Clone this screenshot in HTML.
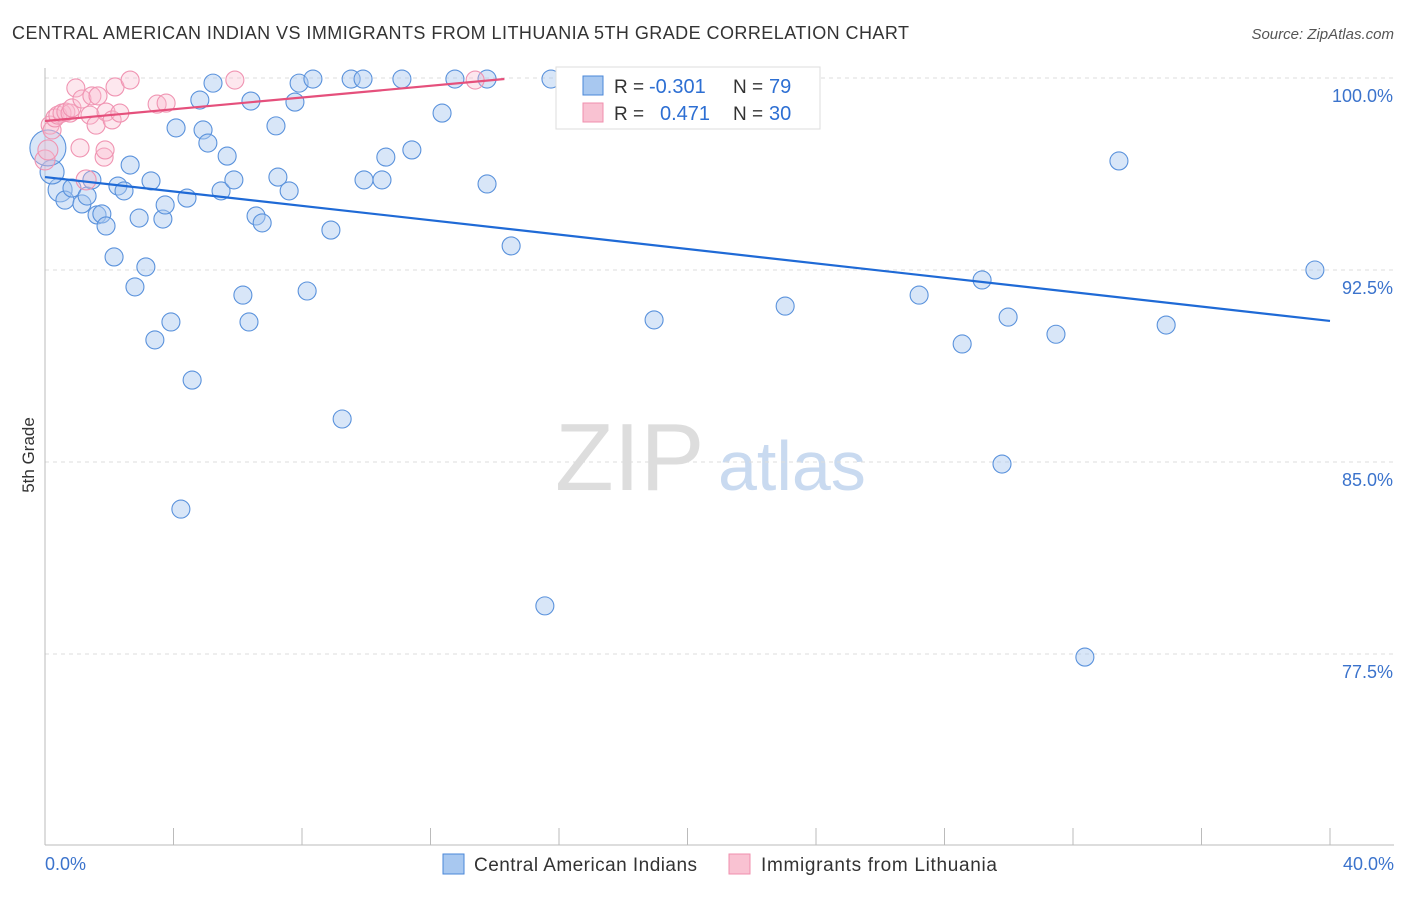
<!DOCTYPE html>
<html><head><meta charset="utf-8"><style>
body{margin:0;background:#fff;font-family:"Liberation Sans",sans-serif;}
svg text{font-family:"Liberation Sans",sans-serif;}
</style></head><body>
<svg width="1406" height="892" xmlns="http://www.w3.org/2000/svg">
<text x="12" y="39" font-size="18" fill="#333" textLength="897">CENTRAL AMERICAN INDIAN VS IMMIGRANTS FROM LITHUANIA 5TH GRADE CORRELATION CHART</text>
<text x="1394" y="39" font-size="15" fill="#555" text-anchor="end" font-style="italic">Source: ZipAtlas.com</text>
<text x="555" y="490" font-size="96" fill="#ddd" font-family="Liberation Serif">ZIP</text>
<text x="718" y="490" font-size="70" fill="#c9daf0">atlas</text>
<g id="grid"></g>
<g id="axes"></g>
<g id="marks"></g>
<text transform="translate(34,455) rotate(-90)" font-size="17" fill="#333" text-anchor="middle">5th Grade</text>
<g>
<rect x="556" y="67" width="264" height="62" fill="#fff" stroke="#ddd"/>
<rect x="583" y="76" width="20" height="19" fill="#a8c8f0" stroke="#4a87d8"/>
<rect x="583" y="103" width="20" height="19" fill="#f9c2d2" stroke="#f08fae"/>
<text x="614" y="93" font-size="19" fill="#333">R =</text>
<text x="649" y="93" font-size="20" fill="#2d6fd3">-0.301</text>
<text x="733" y="93" font-size="19" fill="#333">N =</text>
<text x="769" y="93" font-size="20" fill="#2d6fd3">79</text>
<text x="614" y="120" font-size="19" fill="#333">R =</text>
<text x="660" y="120" font-size="20" fill="#2d6fd3">0.471</text>
<text x="733" y="120" font-size="19" fill="#333">N =</text>
<text x="769" y="120" font-size="20" fill="#2d6fd3">30</text>
</g>
<g>
<rect x="443" y="854" width="21" height="20" fill="#a8c8f0" stroke="#4a87d8"/>
<text x="474" y="871" font-size="19" fill="#333" textLength="223">Central American Indians</text>
<rect x="729" y="854" width="21" height="20" fill="#f9c2d2" stroke="#f08fae"/>
<text x="761" y="871" font-size="19" fill="#333" textLength="236">Immigrants from Lithuania</text>
</g>
</svg>
<script>
const blueX=[0.47,0.62,0.84,1.15,1.31,1.46,1.62,1.77,1.90,2.15,2.27,2.46,2.65,2.80,2.93,3.14,3.30,3.42,3.67,3.74,3.92,4.08,4.23,4.42,4.58,4.82,4.92,5.07,5.23,5.48,5.67,5.88,6.16,6.35,6.41,6.57,6.76,7.19,7.25,7.60,7.78,7.91,8.16,8.34,8.90,9.25,9.53,9.90,9.93,10.49,10.61,11.11,11.42,12.36,12.76,13.76,13.76,14.51,15.56,15.75,17.43,18.96,22.26,23.04,27.21,28.55,29.17,29.79,29.98,31.47,32.37,33.43,34.90,39.53,0.22,0.09];
const blueY=[95.63,95.23,95.70,95.08,95.39,96.02,94.65,94.69,94.22,93.01,95.78,95.59,96.60,91.84,94.53,92.62,95.98,89.77,94.49,95.04,90.47,98.05,83.16,95.31,88.20,99.14,97.97,97.46,99.80,95.59,96.95,96.02,91.52,90.47,99.10,94.61,94.34,98.13,96.13,95.59,99.06,99.80,91.68,99.96,94.06,86.68,99.96,99.96,96.02,96.02,96.91,99.96,97.19,98.63,99.96,95.86,99.96,93.44,79.38,99.96,99.96,90.55,99.96,91.09,91.52,89.61,92.11,84.92,90.66,89.99,77.38,96.76,90.35,92.50,96.33,97.27];
const blueR=[12,9,9,9,9,9,9,9,9,9,9,9,9,9,9,9,9,9,9,9,9,9,9,9,9,9,9,9,9,9,9,9,9,9,9,9,9,9,9,9,9,9,9,9,9,9,9,9,9,9,9,9,9,9,9,9,9,9,9,9,9,9,9,9,9,9,9,9,9,9,9,9,9,9,12,18];
const pinkX=[0.16,0.22,0.31,0.40,0.53,0.65,0.78,0.84,0.96,1.09,1.15,1.40,1.46,1.59,1.65,1.84,1.87,1.90,2.09,2.18,2.33,2.65,3.49,3.77,5.91,13.39,18.21,0.0,0.09,1.28];
const pinkY=[98.16,97.97,98.44,98.55,98.63,98.67,98.63,98.83,99.61,97.27,99.18,98.55,99.30,98.16,99.30,96.91,97.19,98.67,98.36,99.65,98.63,99.92,98.98,99.02,99.92,99.92,99.92,96.80,97.19,96.02];
const blueLine=[96.13,90.51]; // value at x=0 and x=40
const pinkLine=[98.32,99.96,14.3]; // y at 0, y at end, end x
const yTicks=[100,92.5,85,77.5];
const yTickLabels=["100.0%","92.5%","85.0%","77.5%"];
const xTickVals=[0,4,8,12,16,20,24,28,32,36,40];
const NS="http://www.w3.org/2000/svg";
const sx=v=>45+v/40*1285, sy=v=>78+(100-v)*25.6;
function mk(t,a,p){const e=document.createElementNS(NS,t);for(const k in a)e.setAttribute(k,a[k]);document.getElementById(p).appendChild(e);return e;}
yTicks.forEach((t,i)=>{
 const l=mk('line',{x1:45,x2:1394,y1:sy(t),y2:sy(t),stroke:'#ddd','stroke-dasharray':'4,4'},'grid');
 
 
 const tx=mk('text',{x:1393,y:sy(t)+24,'font-size':18,fill:'#3b73cc','text-anchor':'end'},'axes');tx.textContent=yTickLabels[i];
 
 
});
mk('line',{x1:45,x2:45,y1:68,y2:845,stroke:'#bbb'},'axes');
mk('line',{x1:45,x2:1394,y1:845,y2:845,stroke:'#bbb'},'axes');
xTickVals.forEach(v=>{const l=mk('line',{x1:sx(v),x2:sx(v),y1:828,y2:845,stroke:'#bbb'},'axes');
 
 });
let t=mk('text',{x:45,y:870,'font-size':18,fill:'#3b73cc'},'axes');t.textContent='0.0%';


t=mk('text',{x:1394,y:870,'font-size':18,fill:'#3b73cc','text-anchor':'end'},'axes');t.textContent='40.0%';


blueX.forEach((x,i)=>{const c=mk('circle',{cx:sx(x),cy:sy(blueY[i]),r:blueR[i],fill:'rgba(168,200,240,0.45)',stroke:'#5a92dc','stroke-width':1.1},'marks');
 
 });
pinkX.forEach((x,i)=>{const c=mk('circle',{cx:sx(x),cy:sy(pinkY[i]),r:i>=27?10:9,fill:'rgba(248,185,205,0.35)',stroke:'#f094b2','stroke-width':1.1},'marks');
 
 });
let ln=mk('line',{x1:sx(0),y1:sy(blueLine[0]),x2:sx(40),y2:sy(blueLine[1]),stroke:'#1f6ad6','stroke-width':2.2},'marks');


ln=mk('line',{x1:sx(0),y1:sy(pinkLine[0]),x2:sx(pinkLine[2]),y2:sy(pinkLine[1]),stroke:'#e5507c','stroke-width':2.2},'marks');


</script>
</body></html>
